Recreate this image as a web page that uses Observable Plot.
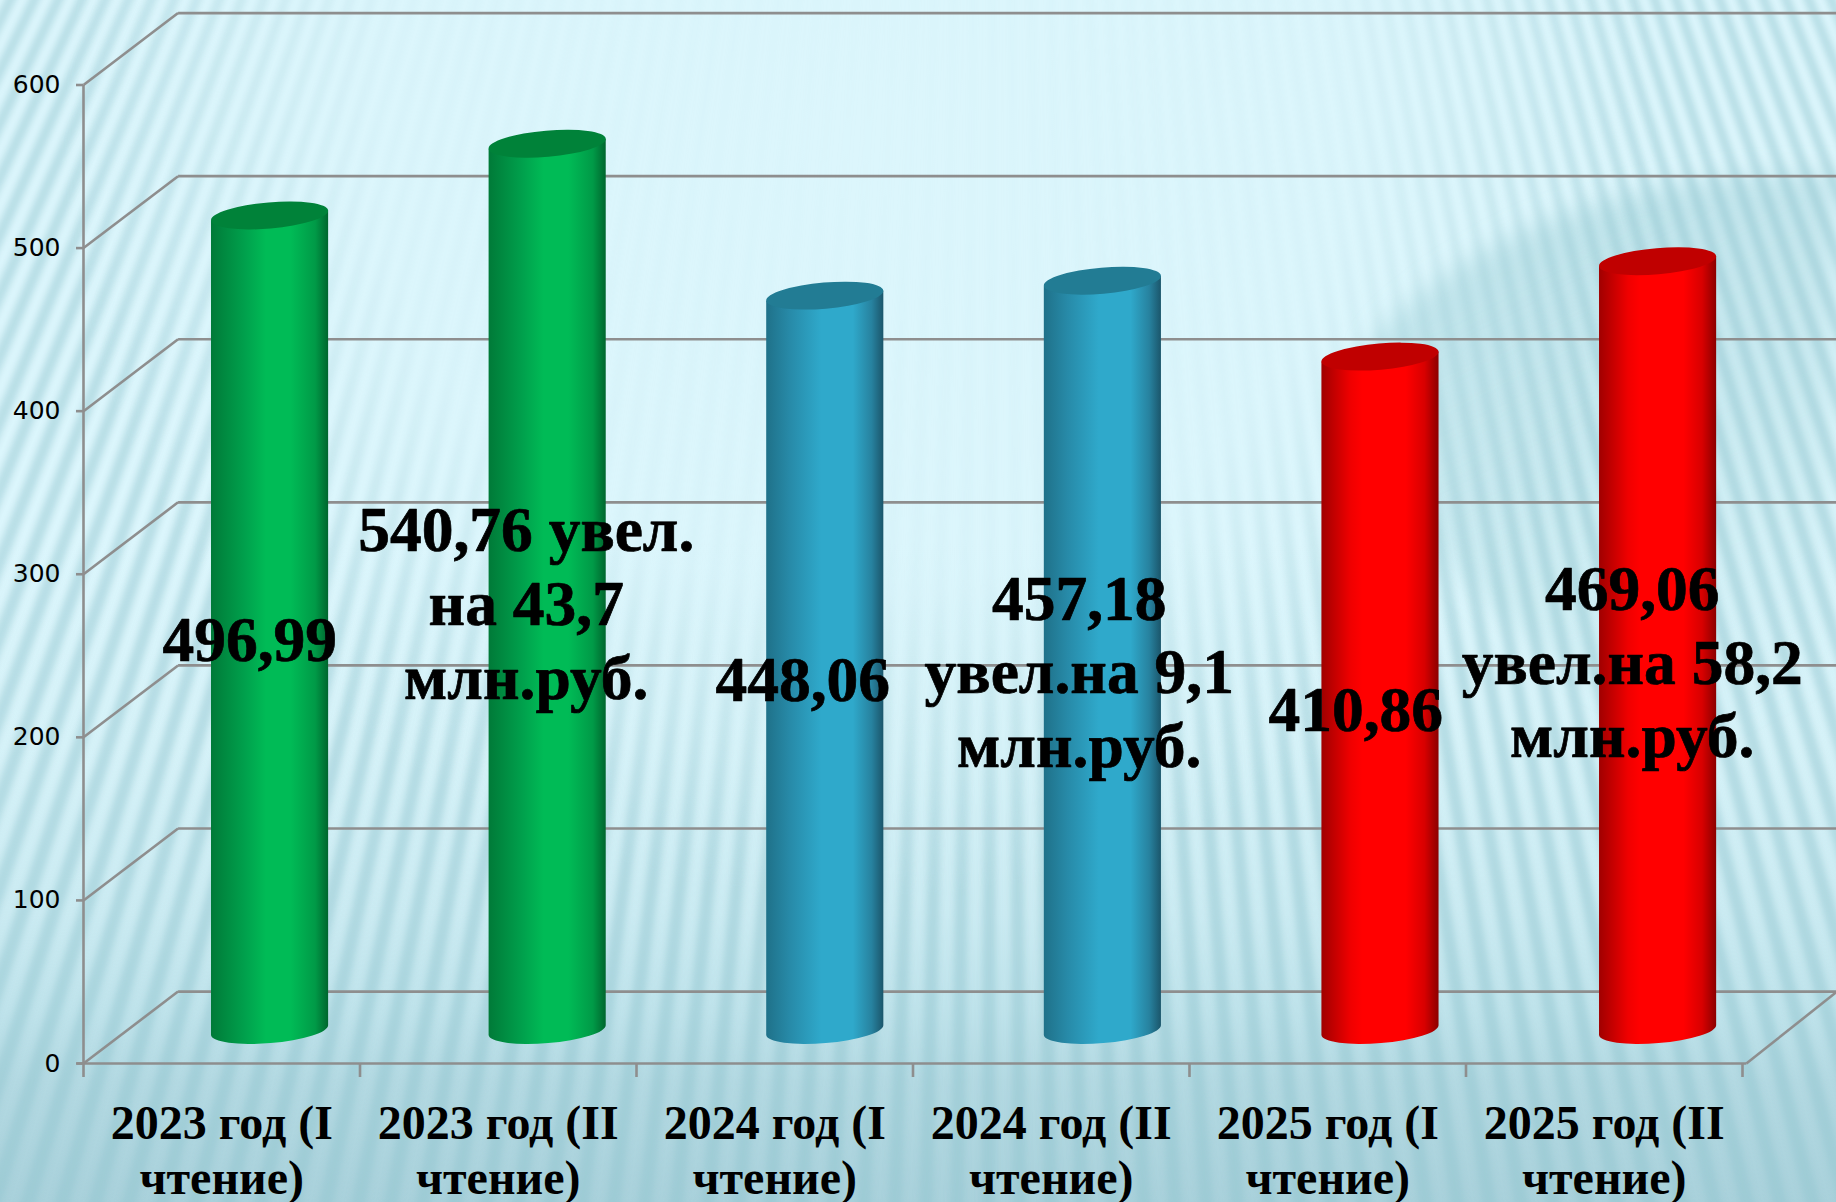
<!DOCTYPE html>
<html><head><meta charset="utf-8">
<style>html,body{margin:0;padding:0;overflow:hidden;background:#dcf6fc}svg{display:block}</style>
<script src="https://cdn.jsdelivr.net/npm/d3@7"></script>
<script src="https://cdn.jsdelivr.net/npm/@observablehq/plot@0.6"></script>
</head><body><script>
const categories = ["2023 год (I\nчтение)","2023 год (II\nчтение)","2024 год (I\nчтение)","2024 год (II\nчтение)","2025 год (I\nчтение)","2025 год (II\nчтение)"];
const years = [2023,2023,2024,2024,2025,2025];
const values = [496.99,540.76,448.06,457.18,410.86,469.06];
const valueLabels = ["496,99","540,76 увел.\nна 43,7\nмлн.руб.","448,06","457,18\nувел.на 9,1\nмлн.руб.","410,86","469,06\nувел.на 58,2\nмлн.руб."];
const yTicks = [0,100,200,300,400,500,600];
const xBoundaries = [0,1,2,3,4,5,6];

const rows = values.map((value,i)=>({i,value,year:years[i],category:categories[i],label:valueLabels[i]}));
const palettes = {
  2023:{id:"g",top:"#008239",stops:[[0,"#007a38"],[.3,"#00a24d"],[.47,"#00bb56"],[.68,"#00bb56"],[.89,"#009a47"],[1,"#00662e"]]},
  2024:{id:"b",top:"#227c94",stops:[[0,"#1f7189"],[.2,"#278aa8"],[.47,"#2fa9cb"],[.74,"#2fa9cb"],[.9,"#27829f"],[1,"#1b566b"]]},
  2025:{id:"r",top:"#c00000",stops:[[0,"#a00000"],[.25,"#f00000"],[.35,"#ff0000"],[.72,"#ff0000"],[.88,"#d80000"],[1,"#8c0000"]]}
};
const depthX = 0.342, depthY = 44.1;           // 3-D box depth in data units
const grey = "#8e8e8e";
const serif = "'Liberation Serif','Times New Roman',serif";

function background(){
  const g = d3.create("svg:g");
  const defs = g.append("defs");
  const lin = defs.append("linearGradient").attr("id","bgv").attr("x1",0).attr("x2",0).attr("y1",0).attr("y2",1);
  [[0,"#dcf6fc"],[.45,"#dcf6fc"],[.62,"#d6f2f8"],[.76,"#cbebf2"],[.84,"#bfe3eb"],[.9,"#b3d9e2"],[1,"#a9d1db"]]
    .forEach(([o,c])=>lin.append("stop").attr("offset",o).attr("stop-color",c));
  const wedgeFill = defs.append("linearGradient").attr("id","wedge").attr("x1",.2).attr("x2",.6).attr("y1",0).attr("y2",1);
  [[0,"#a9d6dd",.62],[.5,"#a9d6dd",.38],[1,"#a9d6dd",0]]
    .forEach(([o,c,a])=>wedgeFill.append("stop").attr("offset",o).attr("stop-color",c).attr("stop-opacity",a));
  const blur = defs.append("filter").attr("id","soft").attr("filterUnits","userSpaceOnUse").attr("x",0).attr("y",0).attr("width",1836).attr("height",1202);
  blur.append("feGaussianBlur").attr("stdDeviation",3.2);
  const blurW = defs.append("filter").attr("id","softW").attr("filterUnits","userSpaceOnUse").attr("x",0).attr("y",0).attr("width",1836).attr("height",1202);
  blurW.append("feGaussianBlur").attr("stdDeviation",12);
  const rad = defs.append("radialGradient").attr("id","hole").attr("gradientUnits","userSpaceOnUse")
    .attr("cx",0).attr("cy",0).attr("r",1).attr("gradientTransform","translate(860,140) scale(800,760)");
  [[0,"#000",.98],[.6,"#000",.88],[1,"#000",0]].forEach(([o,c,a])=>rad.append("stop").attr("offset",o).attr("stop-color",c).attr("stop-opacity",a));
  const mask = defs.append("mask").attr("id","stripemask").attr("maskUnits","userSpaceOnUse").attr("x",0).attr("y",0).attr("width",1836).attr("height",1202);
  mask.append("rect").attr("width",1836).attr("height",1202).attr("fill","#fff");
  mask.append("rect").attr("width",1836).attr("height",1202).attr("fill","url(#hole)");

  g.append("rect").attr("width",1836).attr("height",1202).attr("fill","url(#bgv)");
  const cx=1000, cy=-2000, d=0.0097, R=6000;
  let path="";
  for(let a=-0.52;a<0.47;a+=d){
    const a2=a+d*0.46;
    path+=`M${cx},${cy}L${cx+R*Math.sin(a)},${cy+R*Math.cos(a)}L${cx+R*Math.sin(a2)},${cy+R*Math.cos(a2)}Z`;
  }
  g.append("path").attr("d","M1836,172C1660,172 1510,210 1390,320C1290,410 1470,700 1836,780Z").attr("fill","url(#wedge)").attr("filter","url(#softW)");
  g.append("g").attr("mask","url(#stripemask)")
    .append("path").attr("d",path).attr("fill","#93c4ce").attr("fill-opacity",.48).attr("filter","url(#soft)");
  return g.node();
}

const barStep = 1.004, barShiftX = 0.1747, barHalf = 0.2118, barLift = 33, barStretch = 1.005, tilt = 5, tiltDeg = 4.9, ry = 13.1;
function drawCylinders(index, scales, v){
  const g = d3.create("svg:g").attr("aria-label","bar");
  const defs = g.append("defs");
  Object.values(palettes).forEach(p=>{
    const lg = defs.append("linearGradient").attr("id","cyl"+p.id);
    p.stops.forEach(([o,c])=>lg.append("stop").attr("offset",o).attr("stop-color",c));
  });
  for(const i of index){
    const p = palettes[rows[i].year];
    const xl=Math.min(v.x1[i],v.x2[i]), xr=Math.max(v.x1[i],v.x2[i]);
    const y0=Math.max(v.y1[i],v.y2[i]), y1=Math.min(v.y1[i],v.y2[i]);
    const yb=y0-barLift, yt=yb-(y0-y1)*barStretch, rx=(xr-xl)/2+.2;
    g.append("path").attr("fill",`url(#cyl${p.id})`)
      .attr("d",`M${xl},${yt+tilt}L${xl},${yb+tilt}A${rx},${ry} ${-tiltDeg} 0 0 ${xr},${yb-tilt}L${xr},${yt-tilt}Z`);
    g.append("ellipse").attr("fill",p.top)
      .attr("cx",(xl+xr)/2).attr("cy",yt).attr("rx",rx).attr("ry",ry)
      .attr("transform",`rotate(${-tiltDeg} ${(xl+xr)/2} ${yt})`);
  }
  return g.node();
}

const wallLink = (data,o)=>Plot.link(data,{stroke:grey,strokeWidth:2.6,strokeOpacity:1,...o});

const chart = Plot.plot({
  width:1836, height:1202,
  marginLeft:83, marginRight:94, marginTop:84.5, marginBottom:139,
  style:{background:"transparent",overflow:"hidden"},
  x:{type:"linear",domain:[0,6],axis:null},
  y:{type:"linear",domain:[0,600],axis:null},
  marks:[
    background,
    wallLink(yTicks,{x1:0,y1:d=>d,x2:depthX,y2:d=>d+depthY}),
    wallLink(yTicks,{x1:depthX,y1:d=>d+depthY,x2:6+depthX,y2:d=>d+depthY}),
    wallLink([0],{x1:6.014,y1:0,x2:6+depthX,y2:depthY}),
    wallLink([0],{x1:-0.025,y1:0,x2:6.014,y2:0}),
    wallLink([0],{x1:0,y1:0,x2:0,y2:600}),
    Plot.ruleX(xBoundaries,{y1:0,y2:-8.6,stroke:grey,strokeWidth:2.6}),
    Plot.axisY({ticks:yTicks,tickSize:7,tickPadding:16,stroke:grey,strokeWidth:2.6,strokeOpacity:1,fill:"#000",
      fontFamily:"'DejaVu Sans',sans-serif",fontSize:25,label:null}),
    Plot.rect(rows,{
      x1:d=>d.i*barStep+.5+barShiftX-barHalf, x2:d=>d.i*barStep+.5+barShiftX+barHalf,
      y1:0, y2:d=>d.value, fill:"#000",
      render:(index,scales,v)=>drawCylinders(index,scales,v)
    }),
    Plot.text(rows,{x:d=>d.i+.5,y:d=>d.value/2,text:d=>d.label,dx:28,dy:-21,lineAnchor:"middle",textAnchor:"middle",
      lineHeight:1.16,fill:"#000",stroke:"#000",strokeWidth:0.7,fontFamily:serif,fontWeight:"bold",fontSize:63.5}),
    Plot.axisX({ticks:xBoundaries.slice(0,6).map(d=>d+.5),tickSize:0,tickPadding:36,fill:"#000",
      tickFormat:d=>categories[Math.round(d-.5)],lineHeight:1.146,fontFamily:serif,fontWeight:"bold",fontSize:48,label:null})
  ]
});
document.body.append(chart);
</script></body></html>
